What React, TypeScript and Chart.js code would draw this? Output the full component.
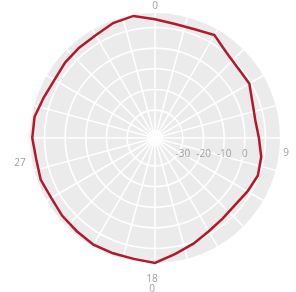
import React, { useEffect, useRef } from "react";
import { Chart, registerables } from "chart.js";

Chart.register(...registerables);

const categories: string[] = [
  "0", "1", "2", "3", "4", "5", "6", "7", "8", "9",
  "10", "11", "12", "13", "14", "15", "16", "17", "18", "19",
  "20", "21", "22", "23", "24", "25", "26", "27", "28", "29",
  "30", "31", "32", "33", "34", "35",
];

const seriesValues: number[] = [
  14.0, 12.5, 12.5, 14.0, 10.4, 9.0, 9.2, 6.7, 5.8, 6.8,
  8.7, 9.5, 8.2, 7.0, 7.4, 8.6, 10.9, 13.4, 17.0, 15.9,
  15.9, 16.1, 15.4, 15.1, 14.5, 15.4, 14.9, 15.9, 15.7, 13.8,
  12.7, 13.3, 13.6, 13.9, 15.7, 16.5,
];

const radialTickValues: number[] = [-30, -20, -10, 0];
const gridTickValues: number[] = [-40, -30, -20, -10, 0, 10];
const angularLabelIndices: number[] = [0, 9, 18, 27];
const angularLabelTexts: string[][] = [["0"], ["9"], ["18", "0"], ["27"]];
const angularGridCount = 24;
const radialMin = -43.5;
const radialMax = 17;

const spokePlugin = {
  id: "spokes",
  beforeDatasetsDraw(chart: any) {
    const scale = chart.scales.r;
    const ctx = chart.ctx;
    ctx.save();
    ctx.strokeStyle = "#ffffff";
    ctx.lineWidth = 1.5;
    for (let k = 0; k < angularGridCount; k++) {
      const a = (k / angularGridCount) * Math.PI * 2 - Math.PI / 2;
      ctx.beginPath();
      ctx.moveTo(scale.xCenter, scale.yCenter);
      ctx.lineTo(scale.xCenter + Math.cos(a) * scale.drawingArea, scale.yCenter + Math.sin(a) * scale.drawingArea);
      ctx.stroke();
    }
    ctx.restore();
  },
};

const labelPlugin = {
  id: "customLabels",
  afterDraw(chart: any) {
    const scale = chart.scales.r;
    const ctx = chart.ctx;
    ctx.save();
    ctx.font = "10px 'Open Sans', Arial, sans-serif";
    ctx.fillStyle = "#a0a0a0";
    ctx.textAlign = "center";
    ctx.textBaseline = "middle";
    radialTickValues.forEach((v) => {
      const d = scale.getDistanceFromCenterForValue(v);
      ctx.fillText(String(v), scale.xCenter + d, scale.yCenter + 16);
    });
    const extra = [7, 6, 16, 10];
    const dys = [0, 15, 0, 25];
    angularLabelIndices.forEach((idx, i) => {
      const p = scale.getPointPosition(idx, scale.drawingArea + extra[i]);
      angularLabelTexts[i].forEach((t, j) => {
        ctx.fillText(t, p.x - (idx === 18 ? 3 : 0), p.y + dys[i] + j * 10);
      });
    });
    ctx.restore();
  },
};

export default function App() {
  const ref = useRef<HTMLCanvasElement>(null);
  useEffect(() => {
    if (!ref.current) return;
    const chart = new Chart(ref.current, {
      type: "radar",
      data: {
        labels: categories,
        datasets: [
          {
            data: seriesValues,
            borderColor: "#b5172e",
            borderWidth: 2.5,
            pointRadius: 0,
            fill: false,
            tension: 0,
          },
        ],
      },
      options: {
        responsive: false,
        animation: false,
        layout: { padding: { left: 30, right: 16, top: 13, bottom: 29 } },
        plugins: { legend: { display: false }, tooltip: { enabled: false } },
        scales: {
          r: {
            min: radialMin,
            max: radialMax,
            startAngle: 0,
            backgroundColor: "#ebebeb",
            afterBuildTicks: (s: any) => {
              s.ticks = gridTickValues.map((v) => ({ value: v }));
            },
            grid: { circular: true, color: "#ffffff", lineWidth: 1.6 },
            angleLines: { display: false },
            ticks: { display: false },
            pointLabels: { display: false },
          },
        },
      },
      plugins: [spokePlugin, labelPlugin],
    });
    return () => chart.destroy();
  }, []);
  return (
    <div style={{ position: "absolute", left: 0, top: 0, width: 296, height: 292, background: "#fff" }}>
      <canvas ref={ref} width={296} height={292} />
    </div>
  );
}
